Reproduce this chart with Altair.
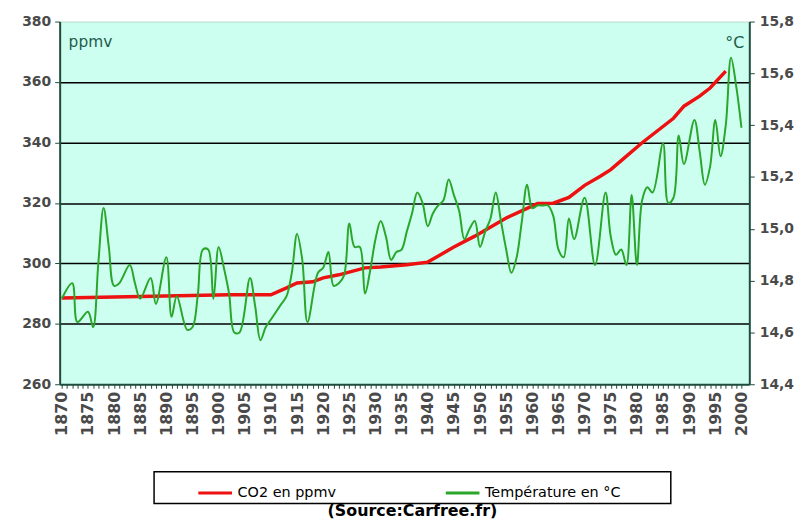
import altair as alt
import pandas as pd

# ---------------- data ----------------
TEMP_YEARS = [1870, 1872, 1873, 1875, 1876, 1877, 1878, 1879, 1880, 1881, 1883, 1884, 1885,
              1887, 1888, 1890, 1891, 1892, 1894, 1895, 1896, 1897, 1898, 1899, 1900, 1901,
              1902, 1903, 1904, 1906, 1907, 1908, 1909, 1910, 1911, 1912, 1913, 1914, 1915,
              1916, 1917, 1919, 1920, 1921, 1922, 1923, 1924, 1925, 1926, 1927, 1928, 1929,
              1930, 1931, 1932, 1933, 1934, 1935, 1936, 1937, 1938, 1939, 1940, 1941, 1942,
              1943, 1944, 1945, 1946, 1947, 1948, 1949, 1950, 1951, 1952, 1953, 1954, 1955,
              1956, 1957, 1958, 1959, 1960, 1961, 1962, 1963, 1964, 1965, 1966, 1967, 1968,
              1970, 1972, 1974, 1975, 1976, 1977, 1978, 1979, 1980, 1981, 1982, 1983, 1985,
              1986, 1987, 1988, 1989, 1991, 1992, 1993, 1994, 1995, 1996, 1997, 1998, 1999,
              2000]
TEMP = [14.73, 14.79, 14.64, 14.68, 14.62, 14.87, 15.08, 14.93, 14.78, 14.79, 14.86, 14.79, 14.73,
        14.81, 14.71, 14.89, 14.66, 14.74, 14.61, 14.62, 14.74, 14.92, 14.92, 14.73, 14.93, 14.85,
        14.75, 14.60, 14.60, 14.81, 14.70, 14.57, 14.62, 14.65, 14.68, 14.71, 14.74, 14.83, 14.98,
        14.88, 14.64, 14.83, 14.85, 14.91, 14.78, 14.79, 14.82, 15.02, 14.93, 14.93, 14.75, 14.84,
        14.96, 15.03, 14.97, 14.88, 14.91, 14.92, 14.99, 15.06, 15.14, 15.10, 15.01, 15.06, 15.09,
        15.11, 15.19, 15.13, 15.07, 14.96, 15.00, 15.03, 14.93, 14.99, 15.04, 15.14, 15.03, 14.92,
        14.83, 14.89, 15.03, 15.17, 15.08, 15.09, 15.09, 15.09, 15.05, 14.92, 14.89, 15.04, 14.96,
        15.12, 14.86, 15.14, 14.97, 14.90, 14.92, 14.86, 15.13, 14.86, 15.11, 15.16, 15.14, 15.33,
        15.10, 15.12, 15.36, 15.25, 15.42, 15.30, 15.17, 15.24, 15.42, 15.28, 15.40, 15.66, 15.55,
        15.39]

CO2_YEARS = [1870, 1885, 1902, 1910, 1913, 1915, 1918, 1920, 1923, 1928, 1931, 1936, 1940,
             1945, 1949, 1955, 1959, 1961, 1964, 1967, 1970, 1973, 1975, 1977, 1981, 1987,
             1989, 1992, 1994, 1997]
CO2 = [288.5, 289.0, 289.6, 289.6, 291.9, 293.5, 293.9, 295.2, 296.2, 298.5, 298.8, 299.5, 300.4,
       305.4, 309.0, 315.0, 318.2, 319.8, 319.9, 321.8, 325.8, 328.8, 331.0, 334.0, 339.9, 348.0,
       352.0, 355.3, 358.0, 363.6]

SERIES = ["CO2 en ppmv", "Température en °C"]
X_TICK_YEARS = list(range(1870, 2001))
LEFT_TICKS = [260, 280, 300, 320, 340, 360, 380]
RIGHT_TICKS = [14.4, 14.6, 14.8, 15.0, 15.2, 15.4, 15.6, 15.8]
SOURCE = "(Source:Carfree.fr)"

# ---------------- styles ----------------
FONT = "DejaVu Sans"
AXIS_COL = "#1e4d3c"
LABEL_COL = "#4a4a4a"
COLORS = ["#ee1111", "#2aa62a"]

co2_df = pd.DataFrame({"year": CO2_YEARS, "value": CO2, "serie": SERIES[0]})
temp_df = pd.DataFrame({"year": TEMP_YEARS, "value": TEMP, "serie": SERIES[1]})

x_enc = alt.X(
    "year:Q",
    scale=alt.Scale(domain=[1869.6, 2001.5], nice=False, zero=False),
    axis=alt.Axis(
        values=X_TICK_YEARS, format="d",
        labelExpr="datum.value % 5 == 0 ? datum.label : ''",
        labelAngle=270, labelOverlap=False, labelFlush=False,
        labelFont=FONT, labelFontSize=16, labelFontWeight="bold", labelColor=LABEL_COL,
        labelPadding=3, tickSize=4, tickColor=AXIS_COL, tickWidth=1,
        domainColor=AXIS_COL, domainWidth=2, grid=False, title=None,
    ),
)

color_enc = alt.Color(
    "serie:N",
    scale=alt.Scale(domain=SERIES, range=COLORS),
    legend=alt.Legend(
        title=None, orient="none", legendX=138, legendY=456, direction="horizontal",
        symbolType="stroke", symbolSize=1150, symbolStrokeWidth=3,
        labelFont=FONT, labelFontSize=14.5, labelColor="black",
        columnPadding=103, labelOffset=4, padding=0,
    ),
)

co2_line = alt.Chart(co2_df).mark_line(strokeWidth=3.5).encode(
    x=x_enc,
    y=alt.Y(
        "value:Q",
        scale=alt.Scale(domain=[260, 380], nice=False, zero=False),
        axis=alt.Axis(
            orient="left", values=LEFT_TICKS, title=None,
            labelFont=FONT, labelFontSize=14, labelFontWeight="bold", labelColor=LABEL_COL,
            labelPadding=4, tickSize=5, tickColor=AXIS_COL, domainColor=AXIS_COL, domainWidth=2,
            grid=True, gridColor="black", gridWidth=1.5,
            gridOpacity={"condition": {"test": "datum.value >= 380 || datum.value <= 260", "value": 0}, "value": 1},
        ),
    ),
    color=color_enc,
)

temp_line = alt.Chart(temp_df).mark_line(strokeWidth=2, interpolate="catmull-rom").encode(
    x=x_enc,
    y=alt.Y(
        "value:Q",
        scale=alt.Scale(domain=[14.4, 15.8], nice=False, zero=False),
        axis=alt.Axis(
            orient="right", values=RIGHT_TICKS, title=None,
            labelExpr="replace(format(datum.value, '.1f'), '.', ',')",
            labelFont=FONT, labelFontSize=14, labelFontWeight="bold", labelColor=LABEL_COL,
            labelPadding=5, tickSize=5, tickColor=AXIS_COL, domainColor=AXIS_COL, domainWidth=2,
            grid=False,
        ),
    ),
    color=color_enc,
)

one = pd.DataFrame({"t": ["x"]})

legend_box = alt.Chart(one).mark_rect(fill="white", stroke="black", strokeWidth=1.5).encode(
    x=alt.value(95), x2=alt.value(615), y=alt.value(453), y2=alt.value(485)
)

ppmv_txt = alt.Chart(one).mark_text(
    text="ppmv", align="left", baseline="middle", font=FONT, fontSize=15.5, color="#1f5c4c"
).encode(x=alt.value(9), y=alt.value(21))

degc_txt = alt.Chart(one).mark_text(
    text="°C", align="right", baseline="middle", font=FONT, fontSize=16, color="#1f5c4c"
).encode(x=alt.value(689), y=alt.value(22))

source_txt = alt.Chart(one).mark_text(
    text=SOURCE, align="center", baseline="middle", font=FONT, fontSize=16,
    fontWeight="bold", color="black"
).encode(x=alt.value(355), y=alt.value(493))

chart = (
    alt.layer(legend_box, ppmv_txt, degc_txt, source_txt, co2_line, temp_line)
    .resolve_scale(y="independent")
    .properties(
        width=694, height=365,
        padding={"left": 52, "top": 12, "right": 48, "bottom": 135},
        autosize=alt.AutoSizeParams(type="none"),
        background="white",
    )
    .configure_view(fill="#ccfff0", stroke="#b8dccb", strokeWidth=1)
)

chart.save("out.html", embed_options={"renderer": "svg", "actions": False})
